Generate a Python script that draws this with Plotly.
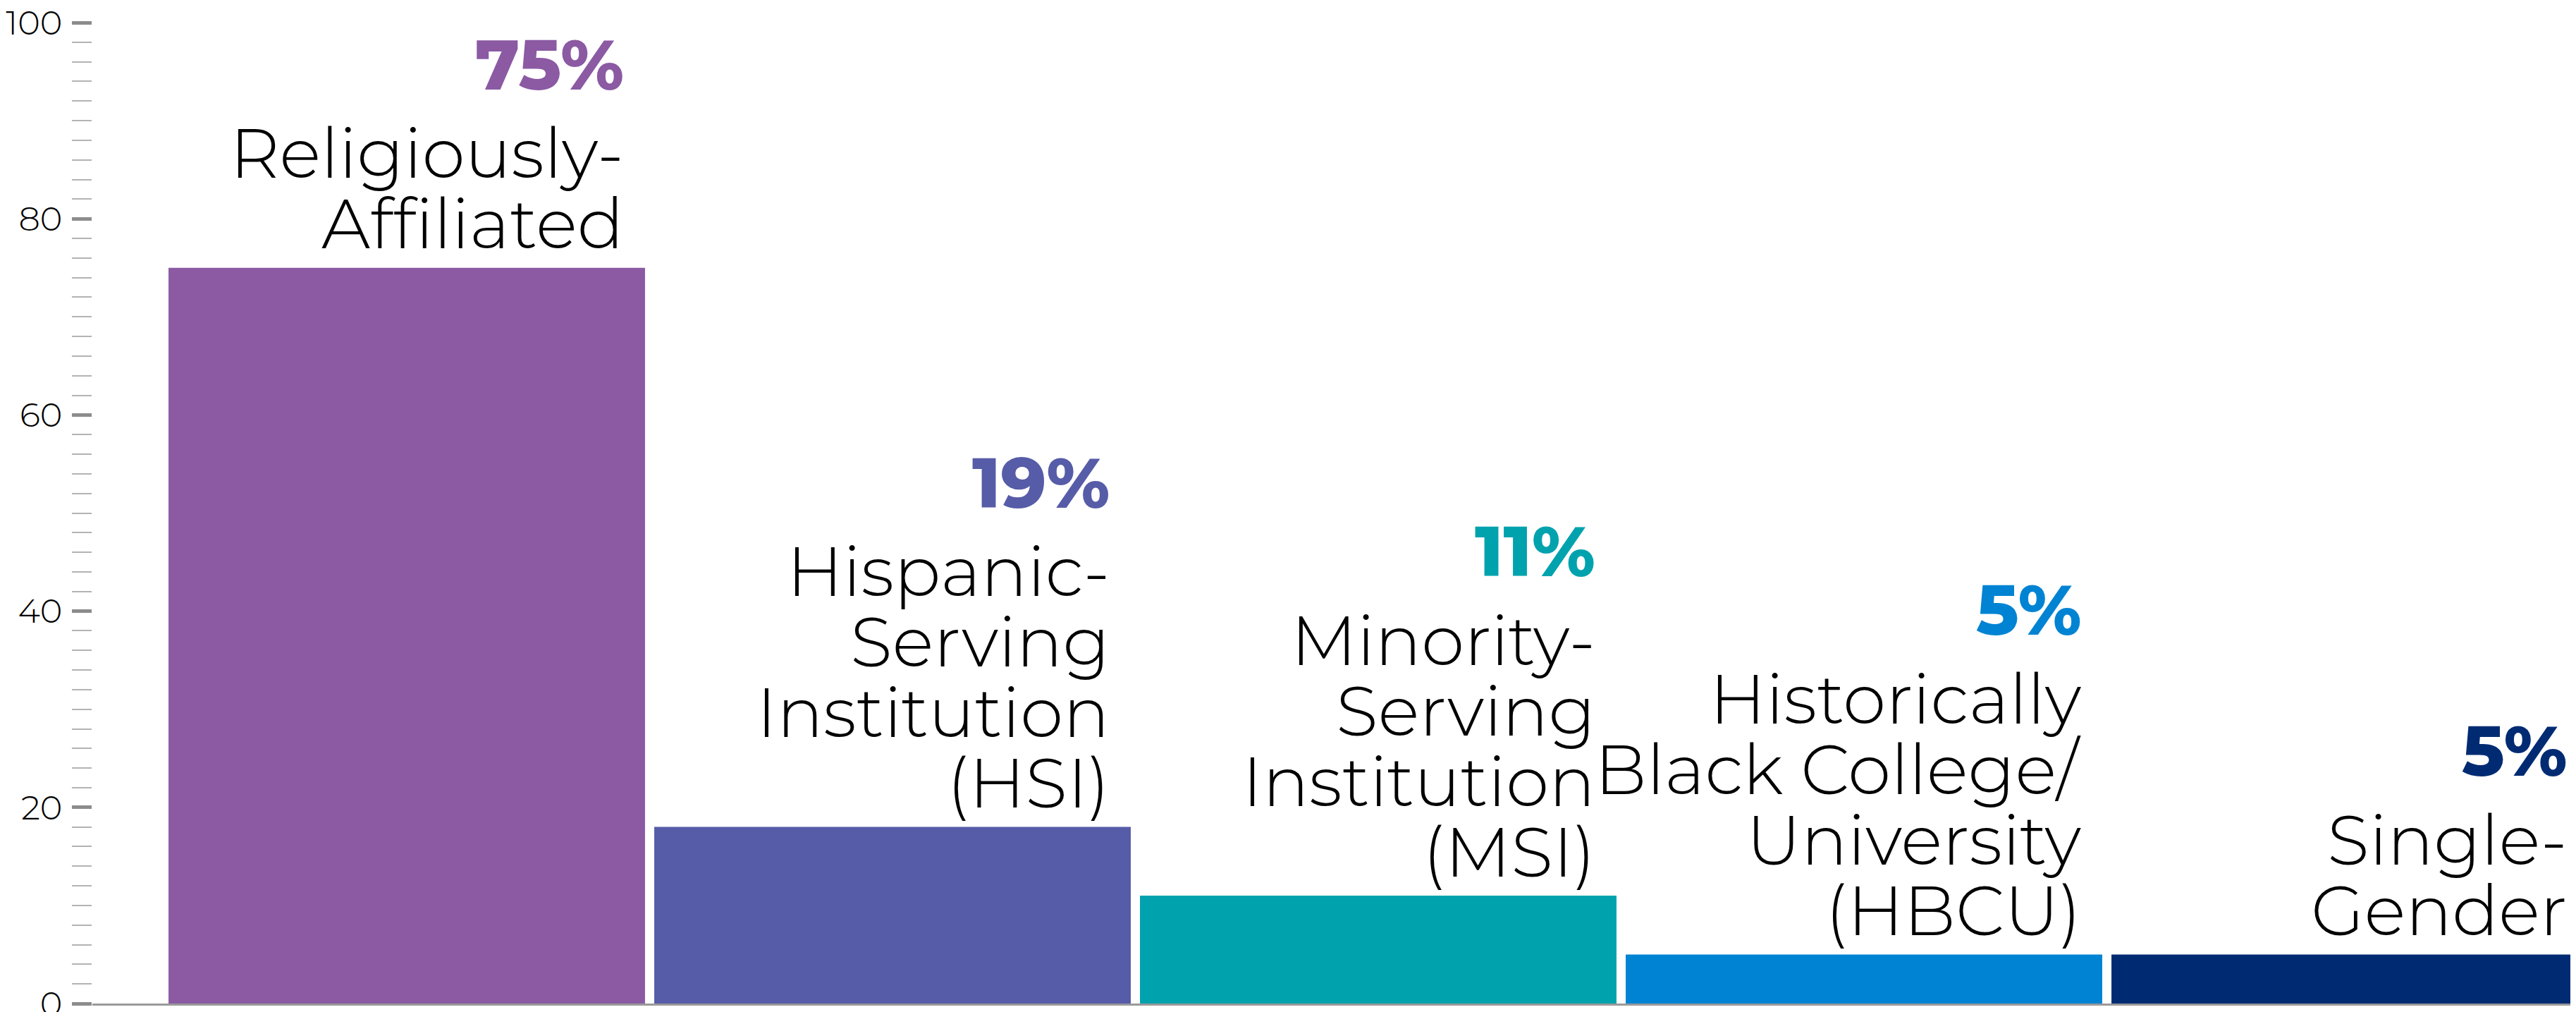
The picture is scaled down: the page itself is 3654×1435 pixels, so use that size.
import plotly.graph_objects as go

# ---- data ----
categories = ["Religiously-Affiliated", "Hispanic-Serving Institution (HSI)",
              "Minority-Serving Institution (MSI)",
              "Historically Black College/University (HBCU)", "Single-Gender"]
bar_values = [75, 18, 11, 5, 5]
pct_labels = ["75%", "19%", "11%", "5%", "5%"]
label_lines = [
    ["Religiously-", "Affiliated"],
    ["Hispanic-", "Serving", "Institution", "(HSI)"],
    ["Minority-", "Serving", "Institution", "(MSI)"],
    ["Historically", "Black College/", "University", "(HBCU)"],
    ["Single-", "Gender"],
]
colors = ["#8B5AA3", "#565CA7", "#00A2AE", "#0083D3", "#002B73"]
y_tick_vals = list(range(0, 101, 10))
y_tick_text = ["0", "", "20", "", "40", "", "60", "", "80", "", "100"]

FONT = "Montserrat, Lato, 'Open Sans', sans-serif"
W, H = 3654, 1435
LBL_SIZE = 98
PCT_SIZE = 100
LINE_STEP = 100
BASE_GAP = 26
PCT_GAP = 126
BAR_W = 0.981
X_UNIT_PX = 689.0
TEXT_INSET = 28 / X_UNIT_PX

x = list(range(len(categories)))
fig = go.Figure()
fig.add_trace(go.Bar(
    x=x, y=bar_values, width=BAR_W,
    marker=dict(color=colors, line=dict(width=0)),
    hoverinfo="skip", showlegend=False,
))

annotations = []
for i, (v, lines, pct, c) in enumerate(zip(bar_values, label_lines, pct_labels, colors)):
    n = len(lines)
    xr = i + BAR_W / 2 - TEXT_INSET
    for j, line in enumerate(lines):
        baseline = BASE_GAP + (n - 1 - j) * LINE_STEP
        annotations.append(dict(
            x=xr, y=v, xref="x", yref="y",
            text=line, showarrow=False, xanchor="right", yanchor="middle",
            yshift=baseline + 0.37 * LBL_SIZE,
            font=dict(family=FONT, size=LBL_SIZE, color="#000000", weight=300),
        ))
    pbase = BASE_GAP + (n - 1) * LINE_STEP + PCT_GAP
    annotations.append(dict(
        x=xr, y=v, xref="x", yref="y",
        text=pct, showarrow=False, xanchor="right", yanchor="middle",
        yshift=pbase + 0.37 * PCT_SIZE,
        font=dict(family=FONT, size=PCT_SIZE, color=c, weight=800),
    ))

fig.update_layout(
    width=W, height=H,
    margin=dict(l=123, r=0, t=24, b=20, pad=0, autoexpand=False),
    paper_bgcolor="white", plot_bgcolor="white",
    bargap=0.019,
    annotations=annotations,
    xaxis=dict(range=[-0.6473, 4.4775], showgrid=False, zeroline=False,
               showticklabels=False, ticks="", showline=True, automargin=False,
               linecolor="#9a9a9a", linewidth=3),
    yaxis=dict(range=[0, 100], showgrid=False, zeroline=False, showline=False,
               automargin=False,
               tickmode="array", tickvals=y_tick_vals, ticktext=y_tick_text,
               ticks="outside", ticklen=28, tickwidth=4.5, tickcolor="#8c8c8c",
               ticklabelstandoff=4, ticklabeloverflow="allow",
               tickfont=dict(family=FONT, size=48, color="#000000", weight=300),
               minor=dict(tickvals=list(range(0, 101, 2)), ticks="outside",
                          ticklen=28, tickwidth=2, tickcolor="#b3b3b3")),
)

fig.write_html("out.html")
